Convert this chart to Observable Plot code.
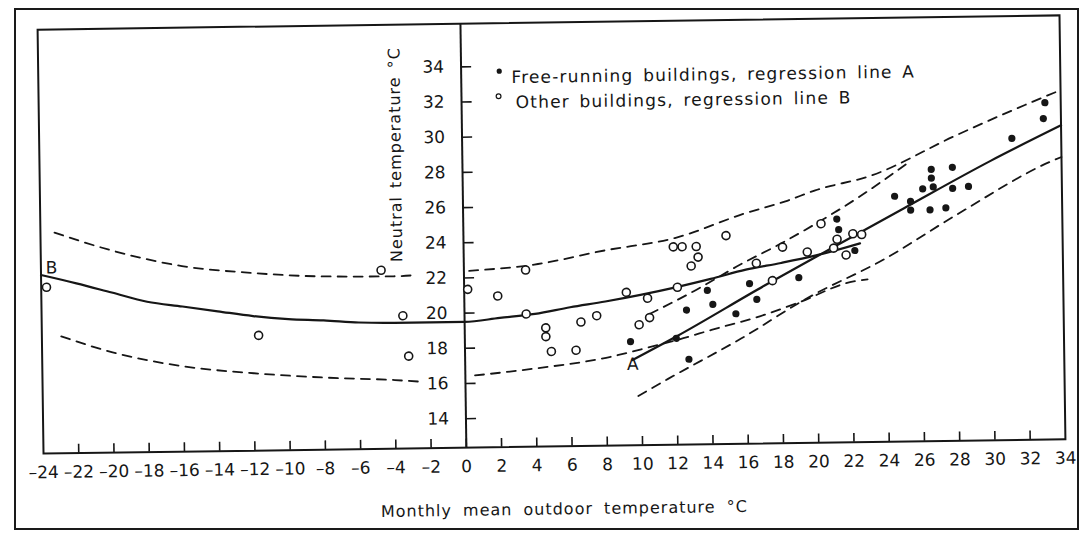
<!DOCTYPE html>
<html><head><meta charset="utf-8">
<script src="https://cdn.jsdelivr.net/npm/d3@7"></script>
<script src="https://cdn.jsdelivr.net/npm/@observablehq/plot@0.6"></script>
<style>
 body{margin:0;background:#fff;}
 #wrap{position:relative;width:1081px;height:538px;overflow:hidden;background:#fff;}
 #border{position:absolute;left:14px;top:8px;width:1061px;height:518px;border:2px solid #1a1a1a;}
 #chart svg{position:absolute;left:0;top:0;transform:rotate(-0.8deg);transform-origin:551px 234px;}
</style></head><body>
<div id="wrap"><div id="border"></div><div id="chart"></div></div>
<script>
// ---- tick labels ----
const xTicks = [-24,-22,-20,-18,-16,-14,-12,-10,-8,-6,-4,-2,0,2,4,6,8,10,12,14,16,18,20,22,24,26,28,30,32,34];
const yTicks = [14,16,18,20,22,24,26,28,30,32,34];
const xDomain = [-24, 34];
const yDomain = [12.35, 36.45];

// ---- other buildings (open circles) ----
const otherX = [-23.7,-11.7,-4.7,-3.5,-3.2,0.2,1.9,3.5,3.5,4.6,4.6,4.9,6.3,6.6,7.5,9.2,9.9,10.5,10.4,11.9,12.4,13.2,13.3,12.9,12.1,14.9,16.6,17.5,18.1,19.5,20.3,21.0,21.2,21.7,22.1,22.6];
const otherY = [21.8,18.9,22.5,19.9,17.6,21.35,20.95,22.4,19.9,19.1,18.6,17.75,17.8,19.4,19.75,21.05,19.2,19.6,20.7,23.6,23.6,23.6,23.0,22.5,21.3,24.2,22.6,21.6,23.5,23.2,24.8,23.4,23.9,23.0,24.2,24.15];

// ---- free-running buildings (filled dots) ----
const freeX = [9.4,12.0,12.6,12.7,13.8,14.1,15.4,16.2,16.6,19.0,21.2,21.3,22.2,24.5,25.4,25.4,26.1,26.6,26.6,26.7,26.5,27.4,27.8,27.8,28.7,31.2,33.1,33.0];
const freeY = [18.25,18.4,20.0,17.2,21.1,20.3,19.75,21.45,20.55,21.75,25.05,24.45,23.25,26.3,26.0,25.5,26.7,27.8,27.3,26.8,25.5,25.6,27.9,26.7,26.8,29.5,31.5,30.6];

// ---- regression line B (solid) ----
const lineBX = [-24,-22,-20,-18,-16,-14,-12,-10,-8,-6,-4,-2,0,2,4,6,8,10,12,14,16,18,20,22.5];
const lineBY = [22.5,22.0,21.45,20.9,20.6,20.3,20.0,19.8,19.7,19.55,19.5,19.5,19.5,19.7,19.9,20.25,20.55,20.9,21.3,21.75,22.25,22.6,23.0,23.65];

// ---- regression line A (solid) ----
const lineAX = [9.5,12,17,20.8,25,30,34];
const lineAY = [17.2,18.5,21.3,23.35,25.6,28.25,30.2];

// ---- band lines (dashed) ----
const bUpperLeftX = [-23.2,-20,-16,-12,-8,-4,-2.7];
const bUpperLeftY = [24.9,23.85,22.9,22.45,22.2,22.15,22.2];
const bUpperRightX = [0.3,4,8,12,16,18.3,20,23.2,28,32,34];
const bUpperRightY = [22.4,22.7,23.45,24.1,25.45,26.1,26.7,27.5,29.7,31.4,32.2];
const aUpperX = [10.5,13,15.8,18,20,22.5,25.3];
const aUpperY = [19.8,21.05,22.6,23.7,24.8,26.3,28.2];
const bLowerLeftX = [-22.9,-20,-16,-12,-8,-4,-2.7];
const bLowerLeftY = [19.0,18.05,17.2,16.75,16.45,16.25,16.15];
const bLowerRightX = [0.55,4,8,10.4,12.4,14,16.8,19,21.9,22.9];
const bLowerRightY = [16.45,16.8,17.35,17.9,18.4,18.85,19.6,20.35,21.45,21.6];
const aLowerX = [9.8,11.5,15.7,19.5,23.8,28,33.5,34];
const aLowerY = [15.15,16.1,18.35,20.6,22.7,25.2,28.2,28.4];

// ---- line labels ----
const lineLabels = ["A","B"];
const lineLabelX = [9.5,-23.4];
const lineLabelY = [16.95,22.9];

// ---- texts ----
const legendTexts = ["Free-running buildings, regression line A", "Other buildings, regression line B"];
const xTitle = "Monthly mean outdoor temperature °C";
const yTitle = "Neutral temperature °C";

const ink = "#161616";
const font = "'DejaVu Sans', 'Liberation Sans', sans-serif";
const rows = (xs, ys, seg) => xs.map((x, i) => ({x, y: ys[i], seg}));
const other = rows(otherX, otherY, "other");
const free = rows(freeX, freeY, "free");
const solid = [...rows(lineBX, lineBY, "B"), ...rows(lineAX, lineAY, "A")];
const dashed = [
  ...rows(bUpperLeftX, bUpperLeftY, "bul"),
  ...rows(bUpperRightX, bUpperRightY, "bur"),
  ...rows(aUpperX, aUpperY, "au"),
  ...rows(bLowerLeftX, bLowerLeftY, "bll"),
  ...rows(bLowerRightX, bLowerRightY, "blr"),
  ...rows(aLowerX, aLowerY, "al")
];
const labels = lineLabels.map((t, i) => ({t, x: lineLabelX[i], y: lineLabelY[i]}));
const fmt = d => (d < 0 ? "\u2013" + Math.abs(d) : String(d));

const chart = Plot.plot({
  width: 1081, height: 538,
  marginLeft: 40, marginRight: 19, marginTop: 22, marginBottom: 92,
  x: {domain: xDomain, axis: null},
  y: {domain: yDomain, axis: null},
  style: {fontFamily: font, background: "transparent", color: ink, overflow: "visible"},
  marks: [
    Plot.frame({stroke: ink, strokeWidth: 2}),
    Plot.ruleX([0], {stroke: ink, strokeWidth: 2}),
    Plot.ruleY(yTicks, {x1: 0, x2: 0.6, stroke: ink, strokeWidth: 1.6}),
    Plot.text(yTicks, {x: 0, y: d => d, text: d => String(d), textAnchor: "end", dx: -17, fontSize: 17, fill: ink}),
    Plot.ruleX(xTicks.slice(1, -1), {y1: yDomain[0], y2: yDomain[0] + 0.5, stroke: ink, strokeWidth: 1.6}),
    Plot.text(xTicks, {x: d => d, y: yDomain[0], text: fmt, dy: 19, fontSize: 17, fill: ink}),
    Plot.line(dashed, {x: "x", y: "y", z: "seg", stroke: ink, strokeWidth: 1.8, strokeDasharray: "9,7", curve: "monotone-x"}),
    Plot.line(solid, {x: "x", y: "y", z: "seg", stroke: ink, strokeWidth: 2.2, curve: "monotone-x"}),
    Plot.dot(other, {x: "x", y: "y", r: 4, stroke: ink, strokeWidth: 1.6, fill: "white"}),
    Plot.dot(free, {x: "x", y: "y", r: 3.6, fill: ink, stroke: "none"}),
    Plot.text(labels, {x: "x", y: "y", text: "t", fontSize: 17, fill: ink}),
    Plot.dot([0], {frameAnchor: "top-left", dx: 461, dy: 48, r: 2.6, fill: ink, stroke: "none"}),
    Plot.dot([0], {frameAnchor: "top-left", dx: 460, dy: 73, r: 2.4, fill: "none", stroke: ink, strokeWidth: 1.2}),
    Plot.text([legendTexts[0]], {frameAnchor: "top-left", dx: 473, dy: 48, textAnchor: "start", fontSize: 17, fill: ink}),
    Plot.text([legendTexts[1]], {frameAnchor: "top-left", dx: 477, dy: 73, textAnchor: "start", fontSize: 17, fill: ink}),
    Plot.text([xTitle], {frameAnchor: "bottom", textAnchor: "middle", dx: 9, dy: 68, fontSize: 16, fill: ink}),
    Plot.text([yTitle], {frameAnchor: "top-left", textAnchor: "middle", dx: 350, dy: 130, rotate: -90, fontSize: 16, fill: ink})
  ]
});
document.getElementById("chart").appendChild(chart);
const spacing = new Map([
  [legendTexts[0], ["1.2px", "3px"]],
  [legendTexts[1], ["1.2px", "3px"]],
  [xTitle, ["1px", "5px"]],
  [yTitle, ["1px", "2px"]]
]);
d3.select(chart).selectAll("text").each(function() {
  const s = spacing.get(this.textContent);
  if (s) d3.select(this).style("letter-spacing", s[0]).style("word-spacing", s[1]);
});
</script></body></html>
